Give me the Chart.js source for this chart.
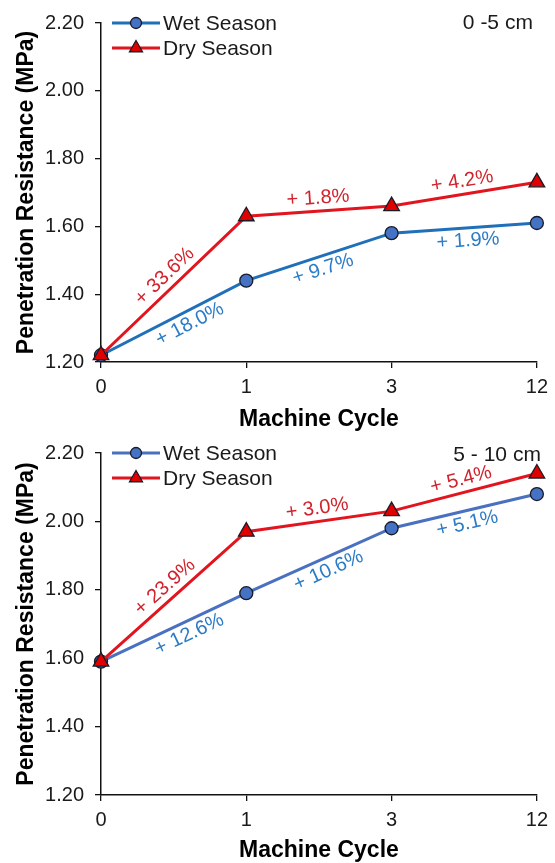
<!DOCTYPE html>
<html>
<head>
<meta charset="utf-8">
<script src="https://cdn.jsdelivr.net/npm/chart.js@4.4.1/dist/chart.umd.min.js"></script>
<style>
  html, body { margin: 0; padding: 0; background: #fff; overflow: hidden; }
  canvas { position: absolute; left: 0; }
  #superior { top: 0; }
  #inferior { top: 430px; }
</style>
</head>
<body>
<canvas id="superior" width="555" height="440"></canvas>
<canvas id="inferior" width="555" height="433"></canvas>
<script>
// Datos
const ciclos = ['0', '1', '3', '12'];
const marcasY = [1.2, 1.4, 1.6, 1.8, 2.0, 2.2];

// Profundidad 0 - 5 cm
const humedaSup = [1.22, 1.44, 1.58, 1.61];
const secaSup = [1.22, 1.63, 1.66, 1.73];
const cambioHumedaSup = ['+ 18.0%', '+ 9.7%', '+ 1.9%'];
const cambioSecaSup = ['+ 33.6%', '+ 1.8%', '+ 4.2%'];

// Profundidad 5 - 10 cm
const humedaInf = [1.59, 1.79, 1.98, 2.08];
const secaInf = [1.59, 1.97, 2.03, 2.14];
const cambioHumedaInf = ['+ 12.6%', '+ 10.6%', '+ 5.1%'];
const cambioSecaInf = ['+ 23.9%', '+ 3.0%', '+ 5.4%'];

const FUENTE = '"Liberation Sans", Arial, Helvetica, sans-serif';
const ROJO = '#e2141e';
const ROJO_TEXTO = '#d2232c';
const AZUL_TEXTO = '#2b7bc6';

Chart.defaults.font.family = FUENTE;
Chart.defaults.color = '#1a1a1a';

// Leyenda dentro del área: línea con marcador y texto
const leyendaInterna = {
  id: 'leyendaInterna',
  afterDraw(chart) {
    const ctx = chart.ctx;
    const area = chart.chartArea;
    const filas = [chart.data.datasets[0], chart.data.datasets[1]];
    ctx.save();
    filas.forEach((ds, i) => {
      const y = area.top + i * 25;
      const x0 = area.left + 11;
      const x1 = area.left + 59;
      ctx.strokeStyle = ds.borderColor;
      ctx.lineWidth = 3;
      ctx.beginPath();
      ctx.moveTo(x0, y);
      ctx.lineTo(x1, y);
      ctx.stroke();
      ctx.fillStyle = ds.pointBackgroundColor;
      ctx.strokeStyle = ds.pointBorderColor;
      ctx.lineWidth = 1.3;
      Chart.helpers.drawPoint(ctx, {
        pointStyle: ds.pointStyle,
        radius: ds.pointStyle === 'triangle' ? 7.5 : 5.5,
        borderWidth: 1.3
      }, (x0 + x1) / 2, y);
      ctx.fillStyle = '#1a1a1a';
      ctx.font = '21px ' + FUENTE;
      ctx.textBaseline = 'middle';
      ctx.textAlign = 'left';
      ctx.fillText(ds.label, x1 + 3, y + 1);
    });
    ctx.restore();
  }
};

// Porcentajes de cambio entre ciclos, girados según cada tramo
const cambios = {
  id: 'cambios',
  afterDatasetsDraw(chart, args, opts) {
    const ctx = chart.ctx;
    ctx.save();
    ctx.font = '20px ' + FUENTE;
    ctx.textAlign = 'center';
    ctx.textBaseline = 'middle';
    opts.series.forEach(s => {
      const puntos = chart.getDatasetMeta(s.dataset).data;
      s.textos.forEach((texto, i) => {
        const a = puntos[i], b = puntos[i + 1];
        const dx = b.x - a.x, dy = b.y - a.y;
        const largo = Math.hypot(dx, dy);
        const t = s.posicion ? s.posicion[i] : 0.5;
        const sep = s.lado * 13;
        const cx = a.x + dx * t + (dy / largo) * sep;
        const cy = a.y + dy * t - (dx / largo) * sep;
        ctx.save();
        ctx.translate(cx, cy);
        ctx.rotate(Math.atan2(dy, dx));
        ctx.fillStyle = s.color;
        ctx.fillText(texto, 0, 0);
        ctx.restore();
      });
    });
    ctx.restore();
  }
};

// Profundidad en la esquina superior derecha
const profundidad = {
  id: 'profundidad',
  afterDraw(chart, args, opts) {
    const ctx = chart.ctx;
    const area = chart.chartArea;
    ctx.save();
    ctx.font = '21px ' + FUENTE;
    ctx.fillStyle = '#1a1a1a';
    ctx.textAlign = 'right';
    ctx.textBaseline = 'middle';
    ctx.fillText(opts.texto, area.right + opts.dx, area.top + opts.dy);
    ctx.restore();
  }
};

function serie(etiqueta, valores, linea, relleno, estilo, radio, orden) {
  return {
    label: etiqueta,
    data: valores,
    borderColor: linea,
    borderWidth: 3,
    pointStyle: estilo,
    pointRadius: radio,
    pointHoverRadius: radio,
    pointBackgroundColor: relleno,
    pointBorderColor: '#1b1b28',
    pointBorderWidth: 1.3,
    tension: 0,
    clip: false,
    order: orden
  };
}

function crearGrafica(id, humeda, seca, colorHumeda, cambioHumeda, cambioSeca, posHumeda, altoEjeX, tituloPad, rotulo) {
  const ctx = document.getElementById(id).getContext('2d');
  return new Chart(ctx, {
    type: 'line',
    data: {
      labels: ciclos,
      datasets: [
        serie('Wet Season', humeda, colorHumeda, '#4472c4', 'circle', 6.5, 2),
        serie('Dry Season', seca, ROJO, '#e00000', 'triangle', 9, 1)
      ]
    },
    options: {
      responsive: false,
      animation: false,
      layout: { padding: { top: 23, right: 14, bottom: 0, left: 0 } },
      plugins: {
        legend: { display: false },
        tooltip: { enabled: false },
        cambios: {
          series: [
            { dataset: 0, textos: cambioHumeda, lado: -1, color: AZUL_TEXTO, posicion: posHumeda },
            { dataset: 1, textos: cambioSeca, lado: 1, color: ROJO_TEXTO }
          ]
        },
        profundidad: rotulo
      },
      scales: {
        x: {
          type: 'category',
          offset: false,
          afterFit(scale) { scale.height = altoEjeX; },
          grid: { drawOnChartArea: false, drawTicks: true, tickLength: 6, color: '#111', lineWidth: 1.3 },
          border: { display: true, color: '#111', width: 1.5 },
          ticks: { font: { size: 20 }, padding: 7, maxRotation: 0, autoSkip: false },
          title: {
            display: true,
            text: 'Machine Cycle',
            color: '#000',
            font: { size: 23, weight: 'bold', lineHeight: 1 },
            padding: { top: 0, bottom: tituloPad }
          }
        },
        y: {
          type: 'linear',
          min: 1.2,
          max: 2.2,
          afterFit(scale) { scale.width = 101; },
          afterBuildTicks(scale) { scale.ticks = marcasY.map(v => ({ value: v })); },
          grid: { drawOnChartArea: false, drawTicks: true, tickLength: 6, color: '#111', lineWidth: 1.3 },
          border: { display: true, color: '#111', width: 1.5 },
          ticks: {
            font: { size: 20 },
            padding: 11,
            callback: v => Number(v).toFixed(2)
          },
          title: {
            display: true,
            text: 'Penetration Resistance (MPa)',
            color: '#000',
            font: { size: 23, weight: 'bold', lineHeight: 1 },
            padding: { top: 15, bottom: 0 }
          }
        }
      }
    },
    plugins: [cambios, leyendaInterna, profundidad]
  });
}

crearGrafica('superior', humedaSup, secaSup, '#1f70b8', cambioHumedaSup, cambioSecaSup,
  [0.57, 0.5, 0.52], 78, 8.5, { texto: '0 -5 cm', dx: -4, dy: 0 });
crearGrafica('inferior', humedaInf, secaInf, '#4a70c0', cambioHumedaInf, cambioSecaInf,
  [0.57, 0.53, 0.5], 68, 0.5, { texto: '5 - 10 cm', dx: 4, dy: 2 });
</script>
</body>
</html>
